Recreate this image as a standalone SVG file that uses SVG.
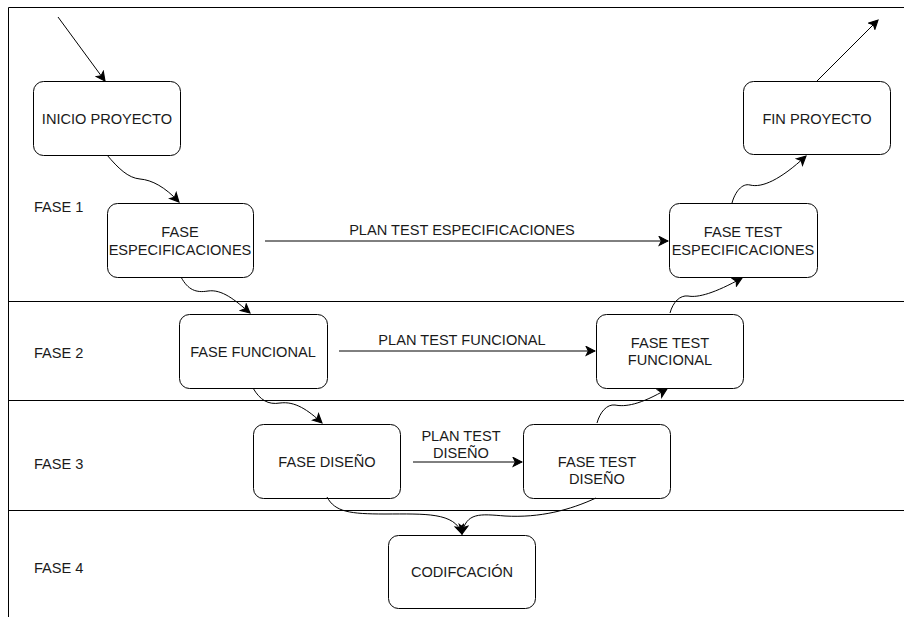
<svg xmlns="http://www.w3.org/2000/svg" width="904" height="617" viewBox="0 0 904 617">
<style>
.node rect{fill:#fff;stroke:#000;stroke-width:1}
text{font-family:"Liberation Sans",Arial,sans-serif;font-size:14.6px;fill:#1a1a1a}
.c{text-anchor:middle}
.lane{stroke:#000;stroke-width:1;fill:none}
.edge{stroke:#000;stroke-width:1;fill:none;marker-end:url(#arr)}
</style>
<defs>
<marker id="arr" markerUnits="userSpaceOnUse" markerWidth="11" markerHeight="11" viewBox="0 0 10 10" refX="9" refY="5" orient="auto">
<path d="M1,1 L9,5 L1,9 L3,5 z" fill="#000" stroke="#000" stroke-width="1"/>
</marker>
</defs>
<rect width="904" height="617" fill="#fff"/>
<g id="lanes">
<path class="lane" d="M8.5,617 V7.5 H904 M8,301.5 H904 M8,400.5 H904 M8,510.5 H904"/>
<text x="34" y="212">FASE 1</text>
<text x="34" y="358">FASE 2</text>
<text x="34" y="469">FASE 3</text>
<text x="34" y="573">FASE 4</text>
</g>
<g id="inicio" class="node"><rect x="33.5" y="81.5" width="147" height="74" rx="10"/><text class="c" x="107" y="124">INICIO PROYECTO</text></g>
<g id="espec" class="node"><rect x="107.5" y="203.5" width="146" height="74" rx="10"/><text class="c" x="180" y="237">FASE</text><text class="c" x="180" y="255">ESPECIFICACIONES</text></g>
<g id="funcional" class="node"><rect x="179.5" y="314.5" width="148" height="74" rx="10"/><text class="c" x="253" y="357">FASE FUNCIONAL</text></g>
<g id="diseno" class="node"><rect x="253.5" y="424.5" width="147" height="74" rx="10"/><text class="c" x="327" y="467">FASE DISEÑO</text></g>
<g id="codif" class="node"><rect x="388.5" y="535.5" width="147" height="73" rx="10"/><text class="c" x="462" y="577">CODIFCACIÓN</text></g>
<g id="testdiseno" class="node"><rect x="523.5" y="424.5" width="147" height="74" rx="10"/><text class="c" x="597" y="467">FASE TEST</text><text class="c" x="597" y="484">DISEÑO</text></g>
<g id="testfuncional" class="node"><rect x="596.5" y="314.5" width="147" height="74" rx="10"/><text class="c" x="670" y="348">FASE TEST</text><text class="c" x="670" y="365">FUNCIONAL</text></g>
<g id="testespec" class="node"><rect x="669.5" y="203.5" width="148" height="74" rx="10"/><text class="c" x="743" y="237">FASE TEST</text><text class="c" x="743" y="255">ESPECIFICACIONES</text></g>
<g id="fin" class="node"><rect x="743.5" y="81.5" width="147" height="73" rx="10"/><text class="c" x="817" y="124">FIN PROYECTO</text></g>
<g id="connectors">
<path class="edge" d="M58,17 L105,81"/>
<path class="edge" d="M817,81 L878,20"/>
<path class="edge" d="M107,155 C118,168 128,178 140,179 C152,180 165,187 179,202"/>
<path class="edge" d="M181,277 C188,290 196,293 208,291 C222,289 235,300 250,313"/>
<path class="edge" d="M253,388 C260,400 268,405 280,403 C295,401 308,410 322,423"/>
<path class="edge" d="M327,497 C335,512 350,514 385,514 C425,514 455,512 462,534"/>
<path class="edge" d="M596,498 C570,510 540,518 505,516 C480,514 466,512 462,534"/>
<path class="edge" d="M597,423 C600,412 607,404 615,405 C625,407 640,405 667,389"/>
<path class="edge" d="M670,313 C673,302 680,295 688,296 C698,298 715,293 742,278"/>
<path class="edge" d="M732,203 C735,192 742,183 750,185 C762,188 780,180 806,156"/>
<path class="edge" d="M265,241 H668"/>
<text class="c" x="462" y="235">PLAN TEST ESPECIFICACIONES</text>
<path class="edge" d="M339,351 H595"/>
<text class="c" x="462" y="345">PLAN TEST FUNCIONAL</text>
<path class="edge" d="M413,462 H522"/>
<text class="c" x="461" y="441">PLAN TEST</text>
<text class="c" x="461" y="458">DISEÑO</text>
</g>
</svg>
